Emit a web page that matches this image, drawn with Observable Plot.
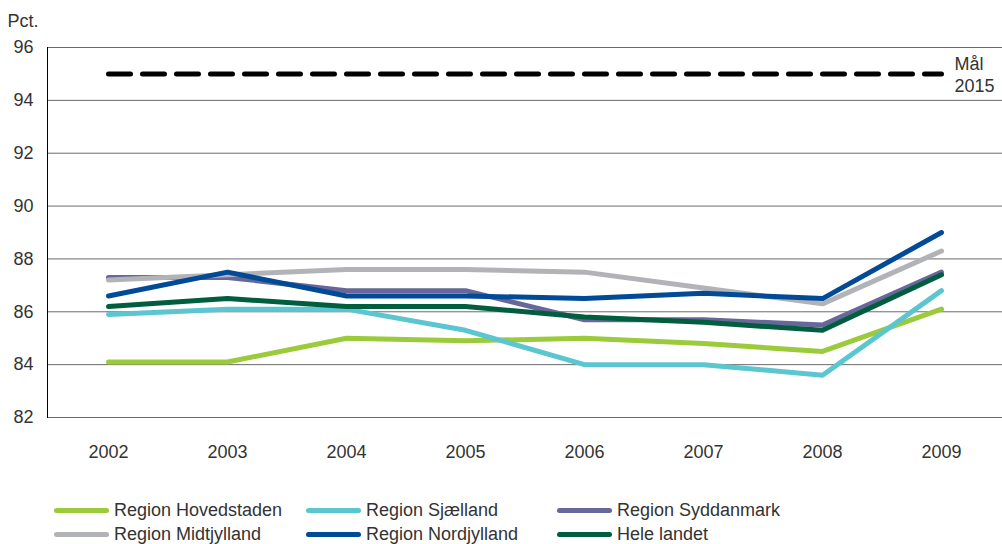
<!DOCTYPE html>
<html>
<head>
<meta charset="utf-8">
<script src="https://cdn.jsdelivr.net/npm/d3@7"></script>
<script src="https://cdn.jsdelivr.net/npm/@observablehq/plot@0.6"></script>
<style>
  body { margin: 0; background: #fff; font-family: "Liberation Sans", Arial, sans-serif; }
  #wrap { width: 1002px; position: relative; }
  #legend { position: relative; height: 64px; font-size: 18px; color: #333; }
  .item { position: absolute; display: flex; align-items: center; white-space: nowrap; height: 20px; }
  .sw { width: 55px; height: 5px; border-radius: 3px; margin-right: 5px; }
</style>
</head>
<body>
<div id="wrap"></div>
<script>
const years = [2002, 2003, 2004, 2005, 2006, 2007, 2008, 2009];
const seriesNames = ["Region Hovedstaden", "Region Sjælland", "Region Syddanmark", "Region Midtjylland", "Region Nordjylland", "Hele landet"];
const seriesColors = ["#9BCB3B", "#5BC6D0", "#67679A", "#B1B3B6", "#004A98", "#005E3F"];
const hovedstaden = [84.1, 84.1, 85.0, 84.9, 85.0, 84.8, 84.5, 86.1];
const sjaelland   = [85.9, 86.1, 86.1, 85.3, 84.0, 84.0, 83.6, 86.8];
const syddanmark  = [87.3, 87.3, 86.8, 86.8, 85.7, 85.7, 85.5, 87.5];
const midtjylland = [87.2, 87.4, 87.6, 87.6, 87.5, 86.9, 86.3, 88.3];
const nordjylland = [86.6, 87.5, 86.6, 86.6, 86.5, 86.7, 86.5, 89.0];
const heleLandet  = [86.2, 86.5, 86.2, 86.2, 85.8, 85.6, 85.3, 87.4];
const target = 95;
const targetLabel = "Mål\n2015";
const yTicks = [82, 84, 86, 88, 90, 92, 94, 96];
const yLabel = "Pct.";

const allValues = [hovedstaden, sjaelland, syddanmark, midtjylland, nordjylland, heleLandet];
const rows = [];
seriesNames.forEach((name, i) => {
  years.forEach((yr, j) => rows.push({ series: name, year: yr, value: allValues[i][j] }));
});
const targetRows = years.map(yr => ({ year: yr, value: target }));

const chart = Plot.plot({
  width: 1002,
  height: 480,
  marginTop: 47,
  marginBottom: 63,
  marginLeft: 47,
  marginRight: 0,
  style: { fontFamily: "Liberation Sans, Arial, sans-serif", fontSize: "18px", color: "#333", overflow: "visible" },
  x: { type: "point", domain: years, padding: 0.48 },
  y: { domain: [82, 96] },
  color: { domain: seriesNames, range: seriesColors },
  marks: [
    Plot.ruleY(yTicks, { stroke: "#6a6a6a", strokeWidth: 1 }),
    Plot.frame({ anchor: "left", stroke: "#000" }),
    Plot.axisY({ ticks: yTicks, tickSize: 0, tickPadding: 14, label: null, fontSize: 18, fill: "#333" }),
    Plot.axisX({ tickSize: 0, tickPadding: 28, label: null, tickFormat: d => String(d), fontSize: 18, fill: "#333" }),
    Plot.text([yLabel], { frameAnchor: "top-left", dx: -40, dy: -33, text: d => d, textAnchor: "start", fontSize: 18, fill: "#333" }),
    Plot.lineY(rows, { x: "year", y: "value", z: "series", stroke: "series", strokeWidth: 5, strokeLinejoin: "round", strokeLinecap: "round" }),
    Plot.lineY(targetRows, { x: "year", y: "value", stroke: "#000", strokeWidth: 5, strokeDasharray: "22,12", strokeLinecap: "round" }),
    Plot.text([targetLabel], { x: () => 2009, y: () => target, text: d => d, dx: 13, textAnchor: "start", lineHeight: 1.22, fontSize: 18, fill: "#333" })
  ]
});
document.getElementById("wrap").appendChild(chart);

const legend = document.createElement("div");
legend.id = "legend";
const colLeft = [54, 306, 557];
const rowCenter = [30, 54];
seriesNames.forEach((name, i) => {
  const item = document.createElement("div");
  item.className = "item";
  item.style.left = colLeft[i % 3] + "px";
  item.style.top = (rowCenter[Math.floor(i / 3)] - 10) + "px";
  const sw = document.createElement("span");
  sw.className = "sw";
  sw.style.background = seriesColors[i];
  const t = document.createElement("span");
  t.textContent = name;
  item.appendChild(sw);
  item.appendChild(t);
  legend.appendChild(item);
});
document.getElementById("wrap").appendChild(legend);
</script>
</body>
</html>
